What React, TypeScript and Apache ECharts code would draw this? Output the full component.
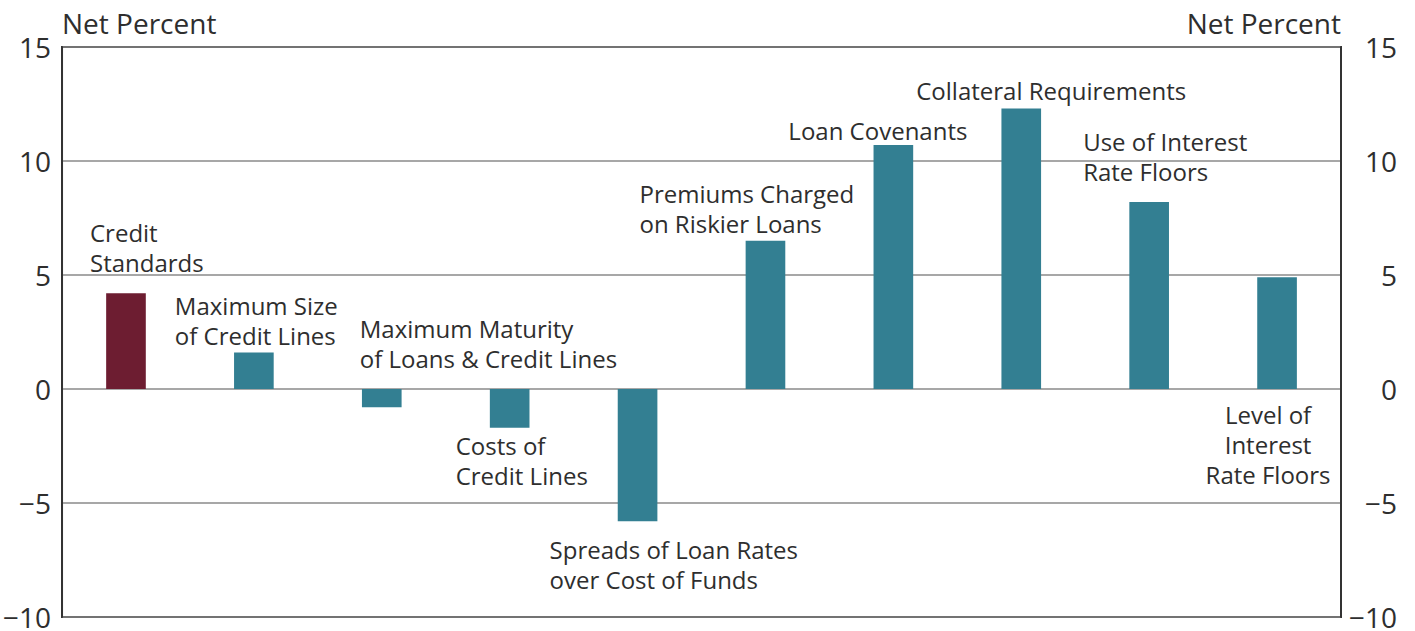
import React, { useEffect, useRef } from "react";
import * as echarts from "echarts";

const categories = [
  "Credit Standards",
  "Maximum Size of Credit Lines",
  "Maximum Maturity of Loans & Credit Lines",
  "Costs of Credit Lines",
  "Spreads of Loan Rates over Cost of Funds",
  "Premiums Charged on Riskier Loans",
  "Loan Covenants",
  "Collateral Requirements",
  "Use of Interest Rate Floors",
  "Level of Interest Rate Floors",
];

const values = [4.2, 1.6, -0.8, -1.7, -5.8, 6.5, 10.7, 12.3, 8.2, 4.9];

const barLabels = [
  "Credit\nStandards",
  "Maximum Size\nof Credit Lines",
  "Maximum Maturity\nof Loans & Credit Lines",
  "Costs of\nCredit Lines",
  "Spreads of Loan Rates\nover Cost of Funds",
  "Premiums Charged\non Riskier Loans",
  "Loan Covenants",
  "Collateral Requirements",
  "Use of Interest\nRate Floors",
  "Level of\nInterest\nRate Floors",
];

const axisName = "Net Percent";
const yMin = -10;
const yMax = 15;
const yInterval = 5;

// label placement relative to the bar tip (pixels), kept apart from data
const labelLayout = [
  { dx: -36, dy: -76, align: "left" },
  { dx: -79, dy: -62, align: "left" },
  { dx: -22, dy: -94, align: "left" },
  { dx: -54, dy: 3, align: "left" },
  { dx: -88, dy: 13, align: "left" },
  { dx: -126, dy: -62, align: "left" },
  { dx: -105, dy: -30, align: "left" },
  { dx: -105, dy: -33, align: "left" },
  { dx: -66, dy: -76, align: "left" },
  { dx: -9, dy: 122, align: "center" },
];

const MAROON = "#6D1D31";
const TEAL = "#337F92";
const FONT = "'Open Sans', sans-serif";
const TEXT = "#2e2e2e";

const fmt = (v: number) => String(v).replace("-", "\u2212");

export default function App() {
  const ref = useRef<HTMLDivElement>(null);

  useEffect(() => {
    if (!ref.current) return;
    const chart = echarts.init(ref.current, undefined, { renderer: "svg" });
    const yAxisCommon = {
      type: "value" as const,
      min: yMin,
      max: yMax,
      interval: yInterval,
      name: axisName,
      nameLocation: "end" as const,
      nameGap: 10,
      axisLine: { show: true, lineStyle: { color: "#333", width: 2 } },
      axisTick: { show: false },
      splitLine: { show: true, lineStyle: { color: "#8a8a8a", width: 1.5 } },
    };
    chart.setOption({
      animation: false,
      textStyle: { fontFamily: FONT },
      grid: {
        left: 62,
        right: 74,
        top: 47,
        bottom: 5,
        show: true,
        borderColor: "#333",
        borderWidth: 2,
        containLabel: false,
      },
      xAxis: {
        type: "category",
        data: categories,
        axisLine: { show: false },
        axisTick: { show: false },
        axisLabel: { show: false },
        splitLine: { show: false },
      },
      yAxis: [
        {
          ...yAxisCommon,
          position: "left",
          nameTextStyle: { fontFamily: FONT, fontSize: 28, color: TEXT, align: "left" },
          axisLabel: {
            fontFamily: FONT,
            fontSize: 28,
            color: TEXT,
            margin: 11,
            padding: [0, 0, 14, 0],
            formatter: (v: number) => fmt(v),
          },
        },
        {
          ...yAxisCommon,
          position: "right",
          splitLine: { show: false },
          nameTextStyle: { fontFamily: FONT, fontSize: 28, color: TEXT, align: "right" },
          axisLabel: {
            fontFamily: FONT,
            fontSize: 28,
            color: TEXT,
            margin: 56,
            align: "right",
            padding: [0, 0, 14, 0],
            formatter: (v: number) => fmt(v),
          },
        },
      ],
      series: [
        {
          type: "bar",
          yAxisIndex: 0,
          barWidth: "31%",
          data: values.map((v, i) => ({
            value: v,
            itemStyle: { color: i === 0 ? MAROON : TEAL },
          })),
        },
      ],
    });

    const graphics = values.map((v, i) => {
      const [px, py] = chart.convertToPixel({ seriesIndex: 0 }, [i, v]) as number[];
      const lay = labelLayout[i];
      return {
        type: "text",
        x: px + lay.dx,
        y: py + lay.dy,
        silent: true,
        style: {
          text: barLabels[i],
          fontFamily: FONT,
          fontSize: 24,
          lineHeight: 30,
          fill: TEXT,
          align: lay.align,
          verticalAlign: "top",
        },
      };
    });
    chart.setOption({ graphic: graphics });

    return () => chart.dispose();
  }, []);

  return (
    <div
      ref={ref}
      style={{ position: "absolute", left: 0, top: 0, width: 1415, height: 631, background: "#fff" }}
    />
  );
}
